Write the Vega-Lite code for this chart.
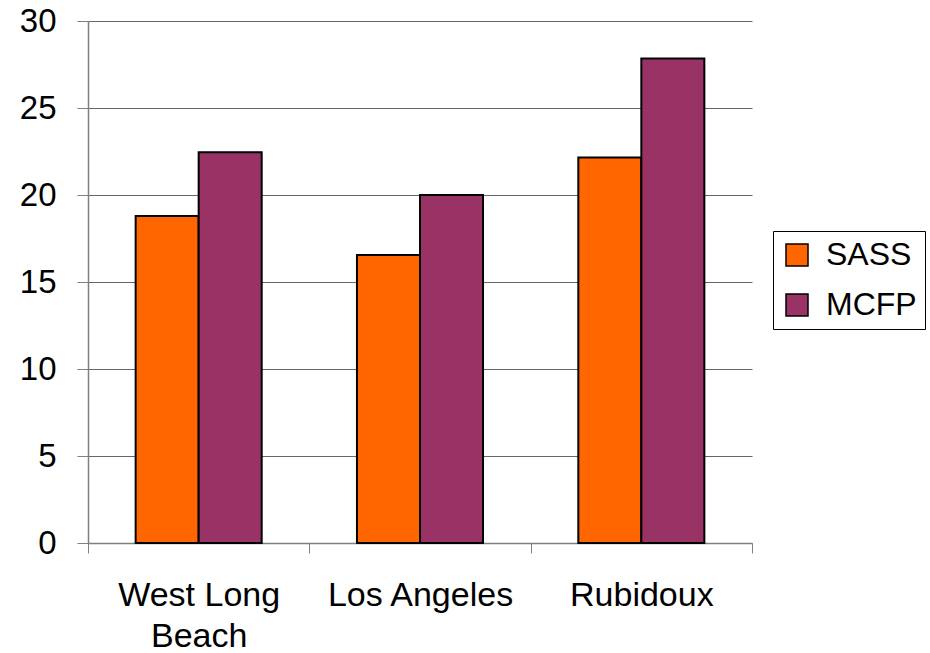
{
  "$schema": "https://vega.github.io/schema/vega-lite/v6.json",
  "autosize": "none",
  "padding": {"left": 88, "top": 21, "right": 178, "bottom": 110},
  "width": 664,
  "height": 522,
  "background": "white",
  "config": {
    "view": {"stroke": null},
    "font": "Liberation Sans",
    "axis": {"labelFont": "Liberation Sans", "labelColor": "black", "title": null}
  },
  "data": {
    "values": [
      {"site": "West Long Beach", "series": "SASS", "value": 18.8},
      {"site": "West Long Beach", "series": "MCFP", "value": 22.45},
      {"site": "Los Angeles", "series": "SASS", "value": 16.55},
      {"site": "Los Angeles", "series": "MCFP", "value": 20.0},
      {"site": "Rubidoux", "series": "SASS", "value": 22.15},
      {"site": "Rubidoux", "series": "MCFP", "value": 27.85}
    ]
  },
  "mark": {"type": "bar", "stroke": "black", "strokeWidth": 2},
  "encoding": {
    "x": {
      "field": "site",
      "type": "nominal",
      "sort": null,
      "scale": {"paddingInner": 0, "paddingOuter": 0},
      "axis": {
        "tickBand": "extent",
        "labelAngle": 0,
        "labelFontSize": 34,
        "labelLineHeight": 41,
        "labelPadding": 25,
        "labelLimit": 400,
        "tickSize": 10,
        "tickColor": "#808080",
        "domainColor": "#808080",
        "domainWidth": 1.5,
        "labelExpr": "datum.label == 'West Long Beach' ? ['West Long', 'Beach'] : datum.label",
        "grid": false
      }
    },
    "xOffset": {
      "field": "series",
      "type": "nominal",
      "sort": ["SASS", "MCFP"],
      "scale": {"paddingInner": 0, "paddingOuter": 0.756}
    },
    "y": {
      "field": "value",
      "type": "quantitative",
      "scale": {"domain": [0, 30], "nice": false},
      "axis": {
        "values": [0, 5, 10, 15, 20, 25, 30],
        "labelFontSize": 33,
        "labelPadding": 21,
        "tickSize": 11,
        "tickColor": "#808080",
        "domainColor": "#808080",
        "domainWidth": 1.5,
        "gridColor": "#666666",
        "gridWidth": 1.2,
        "grid": true
      }
    },
    "color": {
      "field": "series",
      "type": "nominal",
      "sort": ["SASS", "MCFP"],
      "scale": {"domain": ["SASS", "MCFP"], "range": ["#FF6600", "#993366"]},
      "legend": {
        "title": null,
        "orient": "none",
        "legendX": 685,
        "legendY": 210,
        "strokeColor": "black",
        "fillColor": "white",
        "padding": 8,
        "symbolType": "square",
        "symbolSize": 484,
        "symbolStrokeColor": "black",
        "symbolStrokeWidth": 1.5,
        "labelFontSize": 32,
        "labelColor": "black",
        "labelOffset": 13,
        "rowPadding": 18
      }
    }
  }
}
